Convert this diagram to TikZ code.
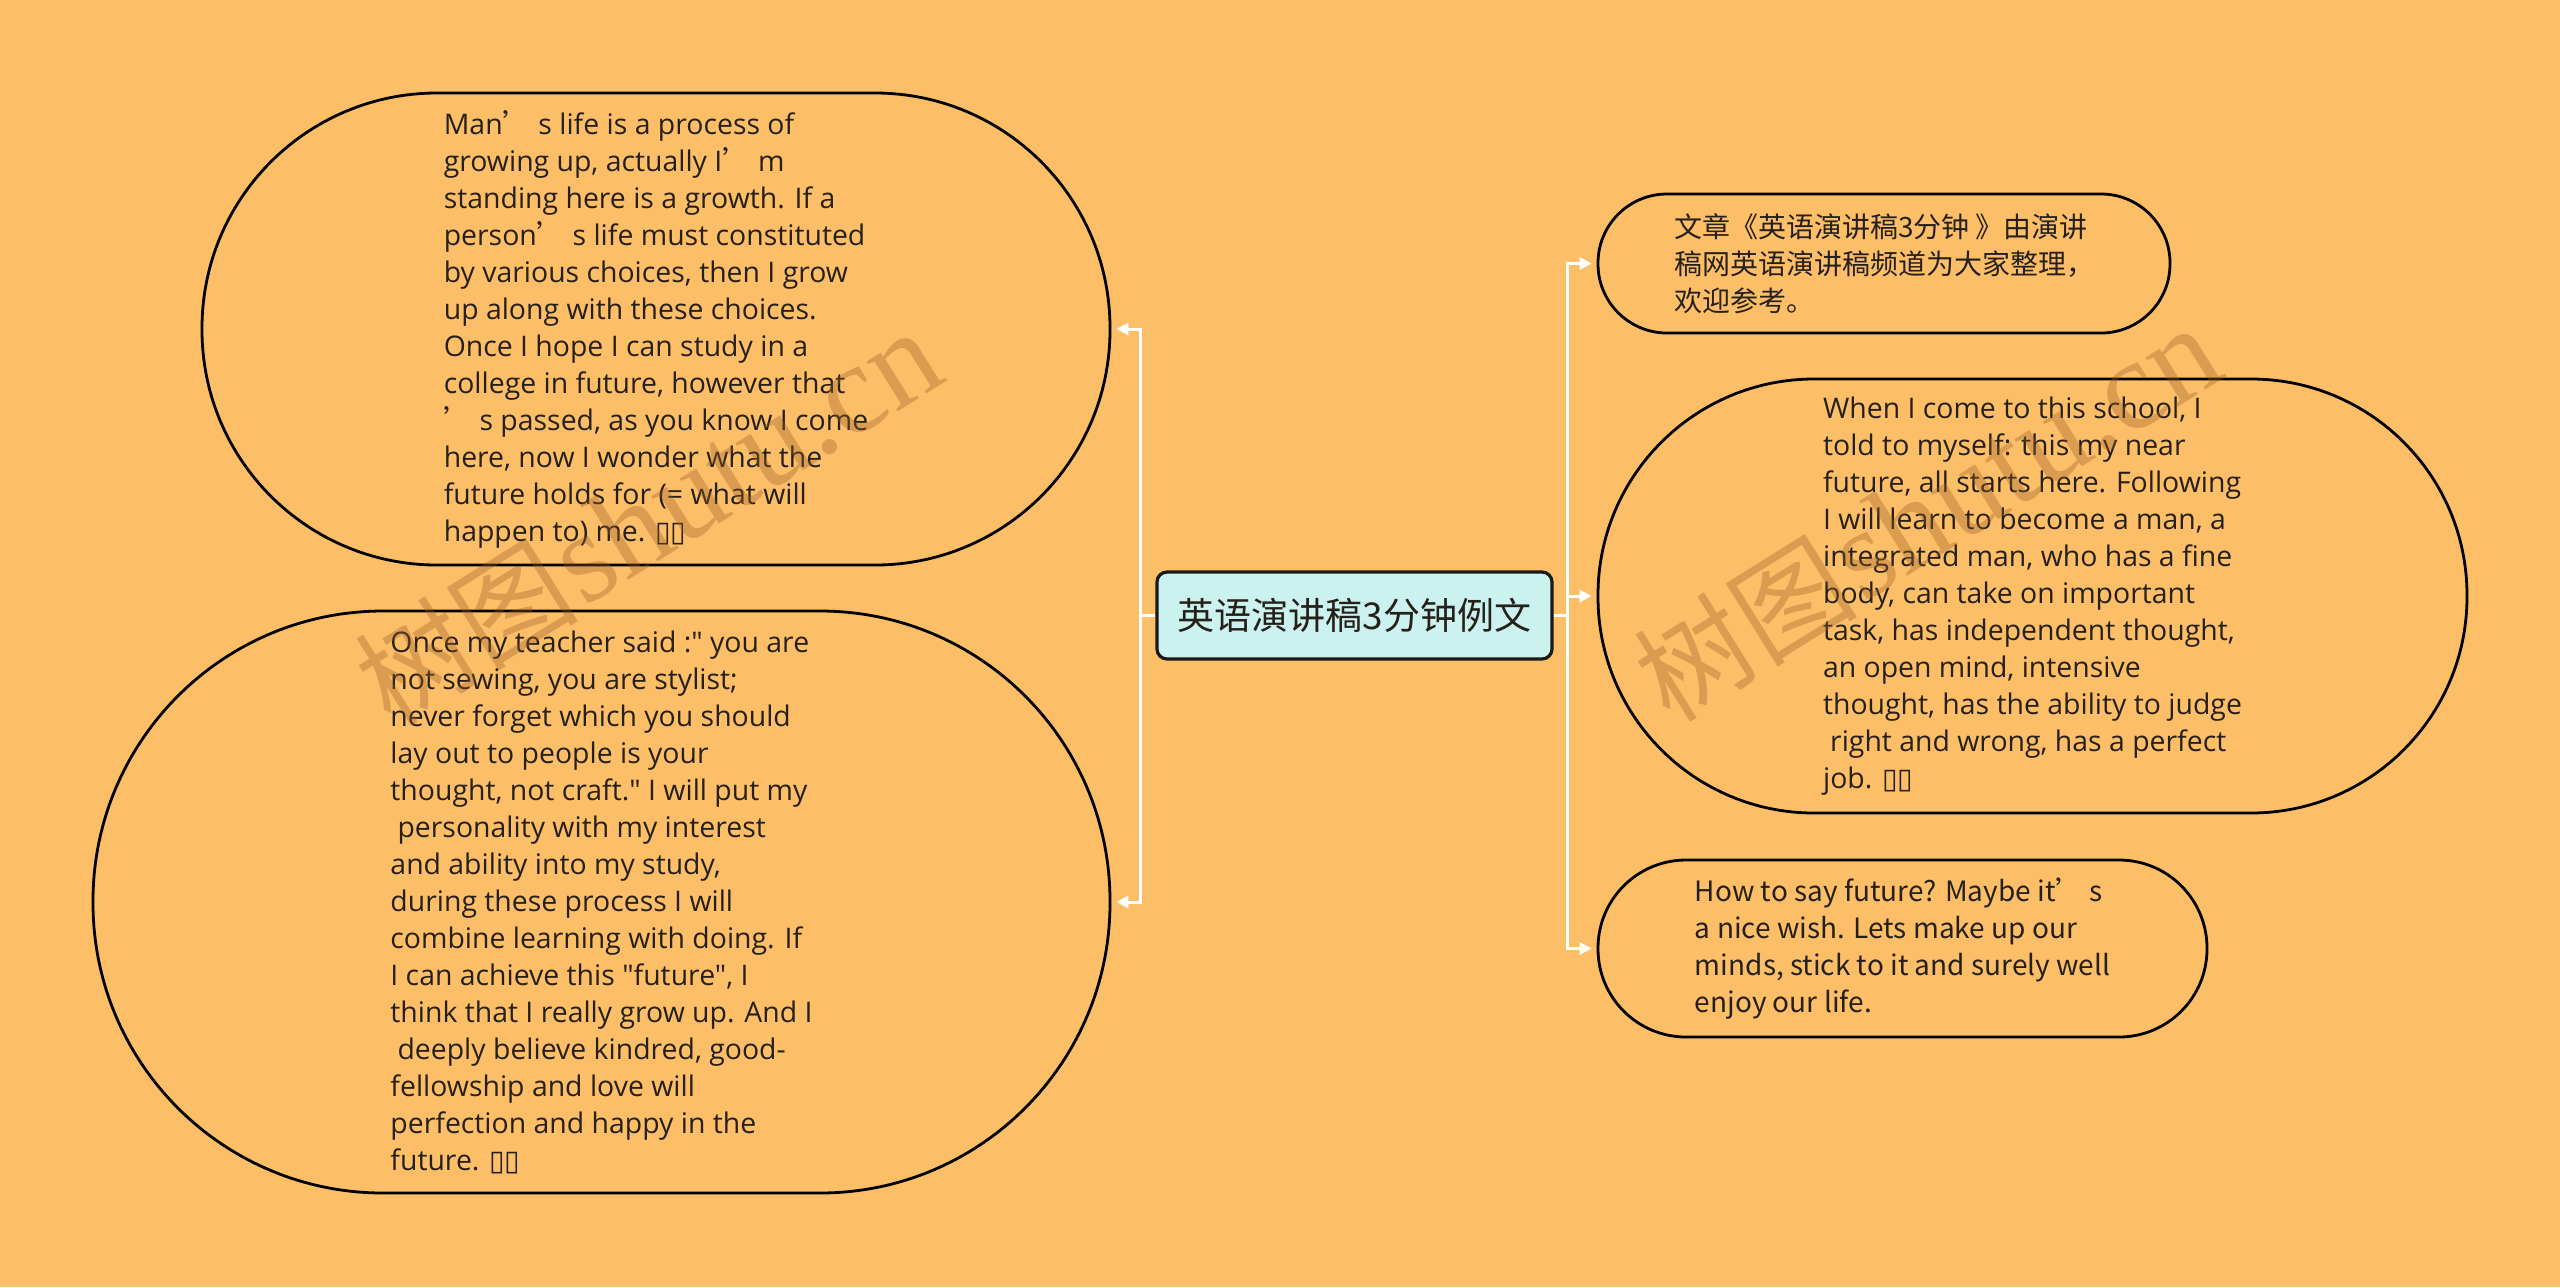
\documentclass[tikz,border=0pt]{standalone}
\usepackage{fontspec}
\setmainfont{Open Sans}[Ligatures=TeXOff]
\newfontfamily\cjk{Noto Sans CJK SC}
\newfontfamily\dvs{DejaVu Sans}
\newfontfamily\wmserif{Liberation Serif}
\usetikzlibrary{arrows.meta}
\definecolor{bg}{RGB}{253,190,104}
\definecolor{cfill}{RGB}{204,242,240}
\definecolor{txt}{RGB}{38,32,26}
\definecolor{wm}{RGB}{150,95,40}
\newcommand\ap{{\cjk ’}}
\newcommand\bx{{\dvs ▯▯}}
\begin{document}
\begin{tikzpicture}[x=0.5pt,y=-0.5pt,
  bubble/.style={draw=black, line width=1.4pt, fill=bg, align=left, text=txt,
    font=\fontsize{14.2}{18.5}\selectfont, inner sep=0pt},
  cbubble/.style={bubble, font=\cjk\fontsize{14}{18.5}\selectfont},
  conn/.style={draw=white, line width=1.5pt},
  arr/.style={conn, -{Triangle[length=6pt,width=6pt]}, shorten >=2.5pt},
  wmk/.style={text=wm, text opacity=0.35, rotate=32, inner sep=0pt}]
\fill[bg] (0,0) rectangle (2560,1287);
\useasboundingbox (0,0) rectangle (2560,1287);

% central topic
\node[draw=black!90, line width=1.6pt, fill=cfill, rounded corners=5pt,
  minimum width=197.5pt, minimum height=43.5pt, text=txt,
  font=\cjk\fontsize{18.5}{22}\selectfont] (c) at (1354.5,615.5) {英语演讲稿3分钟例文};

% left branches
\node[bubble, minimum width=454pt, minimum height=236pt, rounded corners=117.5pt] (tl) at (656,329) {%
Man\ap\ s life is a process of\\
growing up, actually I\ap\ m\\
standing here is a growth. If a\\
person\ap\ s life must constituted\\
by various choices, then I grow\\
up along with these choices.\\
Once I hope I can study in a\\
college in future, however that\\
\ap\ s passed, as you know I come\\
here, now I wonder what the\\
future holds for (= what will\\
happen to) me. \bx};

\node[bubble, minimum width=508.5pt, minimum height=291pt, rounded corners=145pt] (bln) at (601.5,902) {%
Once my teacher said :" you are\\
not sewing, you are stylist;\\
never forget which you should\\
lay out to people is your\\
thought, not craft." I will put my\\
\hspace*{0.25em}personality with my interest\\
and ability into my study,\\
during these process I will\\
combine learning with doing. If\\
I can achieve this "future", I\\
think that I really grow up. And I\\
\hspace*{0.25em}deeply believe kindred, good-\\
fellowship and love will\\
perfection and happy in the\\
future. \bx};

% right branches
\node[cbubble, minimum width=286pt, minimum height=69.5pt, rounded corners=34.5pt] (tr) at (1884,263.5) {%
文章《英语演讲稿3分钟 》由演讲\\
稿网英语演讲稿频道为大家整理，\\
欢迎参考。};

\node[bubble, minimum width=434.5pt, minimum height=217pt, rounded corners=108pt] (mr) at (2032.5,596) {%
When I come to this school, I\\
told to myself: this my near\\
future, all starts here. Following\\
I will learn to become a man, a\\
integrated man, who has a fine\\
body, can take on important\\
task, has independent thought,\\
an open mind, intensive\\
thought, has the ability to judge\\
\hspace*{0.25em}right and wrong, has a perfect\\
job. \bx};

\node[cbubble, minimum width=304.5pt, minimum height=88.5pt, rounded corners=44pt] (brn) at (1902.5,948.5) {%
How to say future? Maybe it’ s\\
a nice wish. Lets make up our\\
minds, stick to it and surely well\\
enjoy our life.};

% connectors
\coordinate (busL) at (1140,615.5);
\coordinate (busR) at (1567,615.5);
\draw[conn] (c.west) -- (busL);
\draw[arr] (busL) |- (tl.east);
\draw[arr] (busL) |- (bln.east);
\draw[conn] (c.east) -- (busR);
\draw[arr] (busR) |- (tr.west);
\draw[arr] (busR) |- (mr.west);
\draw[arr] (busR) |- (brn.west);

% watermarks
\node[wmk] (wm1) at (648,518) {{\cjk\fontsize{56}{56}\selectfont 树图}\,{\wmserif\fontsize{64}{64}\selectfont shutu.cn}};
\node[wmk] (wm2) at (1927,514) {{\cjk\fontsize{56}{56}\selectfont 树图}\,{\wmserif\fontsize{64}{64}\selectfont shutu.cn}};
\end{tikzpicture}
\end{document}
